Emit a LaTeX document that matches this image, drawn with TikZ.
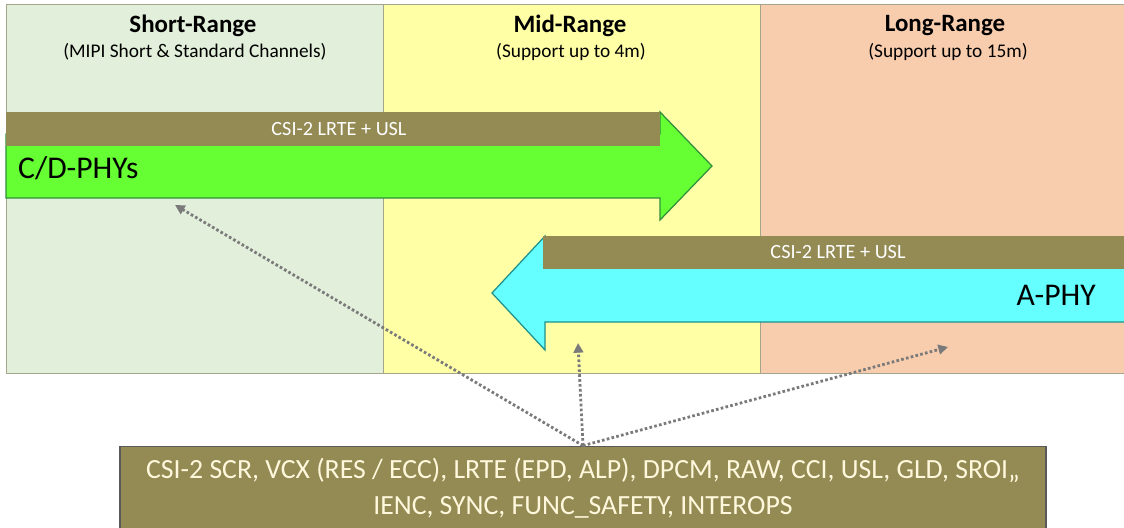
\documentclass[tikz,border=0pt]{standalone}
\usepackage{fontspec}
\setmainfont{Carlito}
\usetikzlibrary{arrows.meta}
\definecolor{shortfill}{HTML}{E2EFDA}
\definecolor{midfill}{HTML}{FFFFA6}
\definecolor{longfill}{HTML}{F8CDAE}
\definecolor{bandline}{HTML}{A5A58C}
\definecolor{olivebar}{HTML}{948A54}
\definecolor{cdgreen}{HTML}{66FF33}
\definecolor{cdedge}{HTML}{2F8F3A}
\definecolor{acyan}{HTML}{66FFFF}
\definecolor{aedge}{HTML}{1F8F8A}
\definecolor{creamtext}{HTML}{FFF8DC}
\definecolor{linkgray}{HTML}{7A7A7A}
\tikzset{
  range box/.style={
    draw=bandline,
    line width=0.6pt,
    anchor=north west,
    inner sep=0pt,
    minimum height=7.38cm,
  },
  range title/.style={font=\fontsize{14.2}{16}\selectfont\bfseries},
  range note/.style={font=\fontsize{11}{13}\selectfont},
  bar text/.style={font=\fontsize{11.5}{13}\selectfont, text=white},
  phy text/.style={font=\fontsize{18}{20}\selectfont},
  feature box/.style={
    draw=black!65,
    line width=1pt,
    fill=olivebar,
    text=creamtext,
    align=center,
    inner sep=0pt,
    minimum width=18.52cm,
    minimum height=1.66cm,
    font=\fontsize{15.8}{20.5}\selectfont,
  },
  link/.style={
    draw=linkgray,
    line width=1.6pt,
    dash pattern=on 1.5pt off 1.3pt,
    -{Triangle[length=5.5pt,width=5.5pt]},
  },
}

\begin{document}
\begin{tikzpicture}[x=0.02cm, y=-0.02cm]
      \useasboundingbox (0,0) rectangle (1124,527);

      \node[range box, fill=shortfill, minimum width=7.54cm] (short) at (6,4) {};
      \node[range box, fill=midfill, minimum width=7.54cm] (mid) at (383,4) {};
      \node[range box, fill=longfill, minimum width=7.30cm] (long) at (760,4) {};

      \node[range title] (shorttitle) at (193,26) {Short-Range};
      \node[range note] (shortnote) at (195,52) {(MIPI Short \& Standard Channels)};
      \node[range title] (midtitle) at (570,26) {Mid-Range};
      \node[range note] (midnote) at (571,52) {(Support up to 4m)};
      \node[range title] (longtitle) at (945,26) {Long-Range};
      \node[range note] (longnote) at (948,52) {(Support up to 15m)};

      \draw[cdedge, fill=cdgreen, line width=0.7pt]
        (6,134) -- (660,134) -- (660,112) -- (712,166) -- (660,220) -- (660,198) -- (6,198) -- cycle;
      \fill[olivebar] (6,112) rectangle (660,146);
      \node[bar text] (cdbar) at (339,129) {CSI-2 LRTE + USL};
      \node[phy text, anchor=west] (cdphy) at (12,168) {C/D-PHYs};

      \draw[aedge, fill=acyan, line width=0.7pt]
        (1126,264) -- (545,264) -- (545,236) -- (492,293) -- (545,350) -- (545,322) -- (1126,322);
      \fill[olivebar] (543,236) rectangle (1126,269);
      \node[bar text] (abar) at (838,252) {CSI-2 LRTE + USL};
      \node[phy text, anchor=east] (aphy) at (1102,295) {A-PHY};

      \node[feature box] (features) at (583,488)
        {CSI-2 SCR, VCX (RES / ECC), LRTE (EPD, ALP), DPCM, RAW, CCI, USL, GLD, SROI,,\\
         IENC, SYNC, FUNC\_SAFETY, INTEROPS};

      \coordinate (cdpoint) at (175,205);
      \coordinate (midpoint) at (578,343);
      \coordinate (longpoint) at (948,347);

      \draw[link] (features.north) -- (cdpoint);
      \draw[link] (features.north) -- (midpoint);
      \draw[link] (features.north) -- (longpoint);
    \end{tikzpicture}
\end{document}
